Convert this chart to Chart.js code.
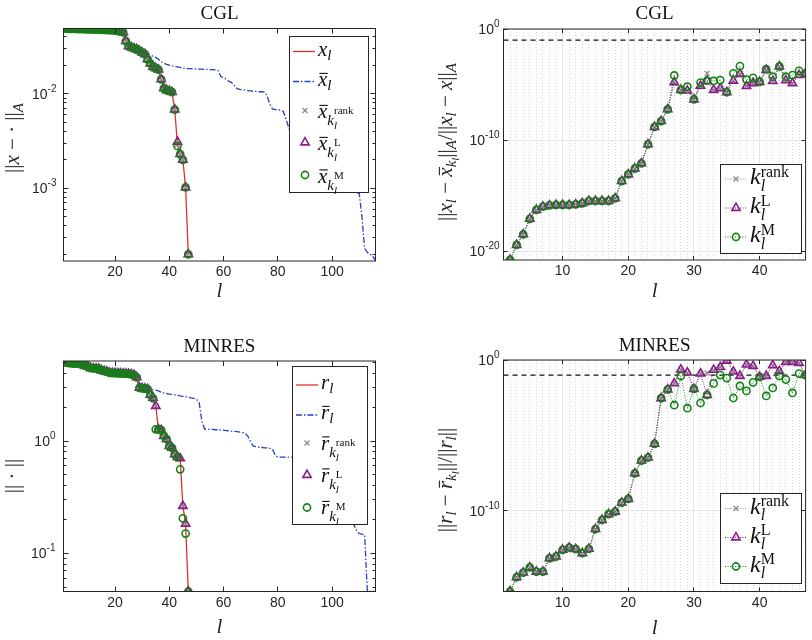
<!DOCTYPE html>
<html>
<head>
<meta charset="utf-8">
<title>CGL / MINRES</title>
<script src="https://cdn.jsdelivr.net/npm/chart.js@4.4.1/dist/chart.umd.min.js"></script>
<style>
  html, body { margin: 0; padding: 0; background: #fff; }
  #fig { position: relative; width: 812px; height: 640px; }
  #fig canvas { position: absolute; }
</style>
</head>
<body>
<div id="fig">
  <canvas id="tl" width="406" height="320" style="left:0;top:0"></canvas>
  <canvas id="tr" width="406" height="320" style="left:406px;top:0"></canvas>
  <canvas id="bl" width="406" height="320" style="left:0;top:320px"></canvas>
  <canvas id="br" width="406" height="320" style="left:406px;top:320px"></canvas>
</div>
<script>
// ---------- data ----------
// CGL, ||x - .||_A, l = 1..47
const cglX = [0.049,0.0488,0.0487,0.0486,0.0485,0.0484,0.0483,0.0482,0.0481,0.048,
  0.0479,0.0478,0.0477,0.0476,0.0475,0.0474,0.0472,0.047,0.0468,0.0466,
  0.0462,0.0456,0.0445,0.0361,0.0318,0.031,0.0302,0.0296,0.0284,0.0272,
  0.0262,0.0231,0.0209,0.0192,0.0186,0.018,0.0142,0.0114,0.0109,0.0107,
  0.0104,0.0068,0.0029,0.0023,0.002,0.00102,0.0002];
const cglXRank = [0.049,0.0488,0.0487,0.0486,0.0485,0.0484,0.0483,0.0482,0.0481,0.048,
  0.0479,0.0478,0.0477,0.0476,0.0475,0.0474,0.0472,0.047,0.0468,0.0466,
  0.0462,0.0456,0.0445,0.0361,0.0318,0.031,0.0302,0.0296,0.0284,0.0272,
  0.0262,0.0231,0.0209,0.0192,0.0186,0.018,0.0142,0.0114,0.0109,0.0107,
  0.0104,0.0068,0.0029,0.0023,0.002,0.00102,0.0002];
const cglXL = [0.049,0.0488,0.0487,0.0486,0.0485,0.0484,0.0483,0.0482,0.0481,0.048,
  0.0479,0.0478,0.0477,0.0476,0.0475,0.0474,0.0472,0.047,0.0468,0.0466,
  0.0462,0.0456,0.0445,0.0361,0.0318,0.031,0.0302,0.0296,0.0284,0.0272,
  0.0262,0.0231,0.0209,0.0192,0.0186,0.018,0.0142,0.0114,0.0109,0.0107,
  0.0104,0.0068,0.0031,0.0023,0.002,0.00102,0.0002];
const cglXM = [0.049,0.0488,0.0487,0.0486,0.0485,0.0484,0.0483,0.0482,0.0481,0.048,
  0.0479,0.0478,0.0477,0.0476,0.0475,0.0474,0.0472,0.047,0.0468,0.0466,
  0.0462,0.0456,0.0445,0.0361,0.0318,0.031,0.0302,0.0296,0.0284,0.0272,
  0.0262,0.0231,0.0209,0.0192,0.0186,0.018,0.0142,0.0114,0.0109,0.0107,
  0.0104,0.0068,0.0028,0.0023,0.002,0.00102,0.0002];
// CGL, x bar, l = 1..116
const cglXBar = [0.049,0.0488,0.0487,0.0486,0.0485,0.0484,0.0483,0.0482,0.0481,0.048,
  0.0479,0.0478,0.0477,0.0476,0.0475,0.0474,0.0472,0.047,0.0468,0.0466,
  0.0462,0.0456,0.0445,0.0361,0.0318,0.031,0.0302,0.0296,0.0284,0.0272,
  0.0266,0.0262,0.0258,0.0248,0.0242,0.0232,0.0218,0.021,0.0205,0.0201,
  0.0197,0.0194,0.0192,0.019,0.0187,0.0185,0.0184,0.0184,0.0183,0.0183,
  0.0182,0.0182,0.0181,0.0181,0.018,0.018,0.0179,0.0176,0.0152,0.0148,
  0.0142,0.0135,0.0131,0.0122,0.0113,0.0111,0.011,0.0109,0.0108,0.0107,
  0.0106,0.0106,0.0105,0.0105,0.0104,0.0096,0.0078,0.0069,0.0068,0.0068,
  0.0067,0.0065,0.0054,0.0044,0.0036,0.0033,0.0031,0.003,0.0029,0.0027,
  0.0026,0.0025,0.0024,0.0022,0.0021,0.002,0.0019,0.0018,0.0017,0.0016,
  0.0015,0.0014,0.0013,0.0012,0.0011,0.00105,0.001,0.00095,0.0009,0.00088,
  0.0005,0.00023,0.00021,0.0002,0.00019,0.000172];

// CGL relative error, l = 2..47
const cglRelRank = [1.6e-21,3.5e-20,3.2e-19,7.9e-18,5.0e-17,1.0e-16,1.3e-16,1.4e-16,1.4e-16,1.4e-16,
  1.6e-16,2.0e-16,3.2e-16,3.2e-16,3.2e-16,3.2e-16,5.5e-16,2.0e-14,7.9e-14,2.7e-13,
  7.9e-13,4.0e-11,1.5e-9,5.1e-9,5.8e-8,
  1.6e-5,3.2e-6,2.8e-6,4.5e-7,7.6e-6,1.0e-4,3.2e-6,4.5e-6,2.0e-6,2.2e-5,
  8.9e-5,7.1e-6,1.3e-5,1.7e-5,2.0e-4,2.0e-5,4.2e-4,2.4e-5,1.3e-5,7.1e-5,1.0e-4];
const cglRelL = [1.6e-21,3.5e-20,3.2e-19,7.9e-18,5.0e-17,1.0e-16,1.3e-16,1.4e-16,1.4e-16,1.4e-16,
  1.6e-16,2.0e-16,3.2e-16,3.2e-16,3.2e-16,3.2e-16,5.5e-16,2.0e-14,7.9e-14,2.7e-13,
  7.9e-13,4.0e-11,1.5e-9,5.1e-9,5.8e-8,
  1.6e-5,3.2e-6,2.8e-6,4.5e-7,7.6e-6,2.1e-5,3.2e-6,4.5e-6,2.0e-6,2.2e-5,
  8.9e-5,7.1e-6,1.3e-5,1.7e-5,2.0e-4,2.0e-5,4.2e-4,2.4e-5,1.3e-5,7.1e-5,1.0e-4];
const cglRelM = [1.6e-21,3.5e-20,3.2e-19,7.9e-18,5.0e-17,1.0e-16,1.3e-16,1.4e-16,1.4e-16,1.4e-16,
  1.6e-16,2.0e-16,3.2e-16,3.2e-16,3.2e-16,3.2e-16,5.5e-16,2.0e-14,7.9e-14,2.7e-13,
  7.9e-13,4.0e-11,1.5e-9,5.1e-9,5.8e-8,
  6.5e-5,3.2e-6,6.3e-6,4.5e-7,1.5e-5,2.2e-5,2.1e-5,2.5e-5,2.0e-6,1.0e-4,
  4.5e-4,2.8e-5,4.0e-5,1.7e-5,2.4e-4,5.0e-5,4.2e-4,5.0e-5,7.1e-5,1.7e-4,1.0e-4];

// MINRES, ||.||, l = 1..47
const minresR = [5.16,5.0,4.95,4.92,4.9,4.88,4.85,4.8,4.66,4.62,
  4.45,4.43,4.42,4.4,4.25,4.2,4.15,4.05,4.03,4.02,
  4.01,4.0,3.99,3.98,3.96,3.93,3.87,3.69,2.98,2.95,
  2.93,2.9,2.58,2.42,2.05,1.27,1.25,1.11,1.04,0.9,
  0.87,0.76,0.72,0.7,0.264,0.183,0.0457];
const minresRank = [5.16,5.0,4.95,4.92,4.9,4.88,4.85,4.8,4.66,4.62,
  4.45,4.43,4.42,4.4,4.25,4.2,4.15,4.05,4.03,4.02,
  4.01,4.0,3.99,3.98,3.96,3.93,3.87,3.69,2.98,2.95,
  2.93,2.9,2.58,2.42,2.05,1.27,1.25,1.11,1.04,0.9,
  0.87,0.76,0.72,0.7,0.264,0.183,0.0457];
const minresL = [5.16,5.0,4.95,4.92,4.9,4.88,4.85,4.8,4.66,4.62,
  4.45,4.43,4.42,4.4,4.25,4.2,4.15,4.05,4.03,4.02,
  4.01,4.0,3.99,3.98,3.96,3.93,3.87,3.69,2.98,2.95,
  2.93,2.9,2.58,2.42,2.05,1.27,1.25,1.11,1.04,0.9,
  0.87,0.76,0.72,0.7,0.264,0.183,0.0457];
const minresM = [5.16,5.0,4.95,4.92,4.9,4.88,4.85,4.8,4.66,4.62,
  4.45,4.43,4.42,4.4,4.25,4.2,4.15,4.05,4.03,4.02,
  4.01,4.0,3.99,3.98,3.96,3.93,3.87,3.69,2.98,2.95,
  2.93,2.9,2.58,2.4,1.27,1.27,1.25,1.11,1.04,0.9,
  0.87,0.76,0.72,0.56,0.205,0.15,0.0457];
// MINRES, r bar, l = 1..116
const minresRBar = [5.16,5.0,4.95,4.92,4.9,4.88,4.85,4.8,4.66,4.62,
  4.45,4.43,4.42,4.4,4.25,4.2,4.15,4.05,4.03,4.02,
  4.01,4.0,3.99,3.98,3.96,3.93,3.87,3.69,2.98,2.95,
  2.93,2.9,2.88,2.86,2.84,2.8,2.72,2.68,2.65,2.62,
  2.6,2.58,2.55,2.52,2.5,2.48,2.45,2.42,2.4,2.35,
  2.2,1.5,1.28,1.28,1.27,1.27,1.26,1.26,1.25,1.25,
  1.24,1.23,1.22,1.22,1.21,1.2,1.19,1.17,1.1,0.98,
  0.9,0.89,0.88,0.88,0.87,0.87,0.86,0.85,0.75,0.72,
  0.72,0.72,0.72,0.72,0.72,0.7,0.68,0.6,0.5,0.45,
  0.42,0.4,0.38,0.36,0.34,0.32,0.3,0.28,0.27,0.26,
  0.25,0.24,0.23,0.22,0.21,0.2,0.19,0.18,0.16,0.15,
  0.148,0.146,0.0457,0.0457,0.0457,0.0457];

// MINRES relative residual, l = 2..47
const minresRelRank = [4.3e-16,3.8e-15,7.8e-15,1.7e-14,8.9e-15,8.9e-15,6.9e-14,8.9e-14,2.5e-13,3.5e-13,
  2.8e-13,1.5e-13,2.9e-13,5.9e-12,2.4e-11,5.8e-11,8.5e-11,3.4e-10,6.0e-10,3.0e-8,
  2.1e-7,3.3e-7,2.7e-6,2.9e-3,1.1e-2,
  2.8e-2,0.23,0.145,1.2e-2,0.126,0.138,0.22,0.34,0.89,0.17,
  8.7e-2,0.49,0.4,7.6e-2,8.7e-2,0.44,0.18,0.74,0.74,0.63,0.1];
const minresRelL = [4.3e-16,3.8e-15,7.8e-15,1.7e-14,8.9e-15,8.9e-15,6.9e-14,8.9e-14,2.5e-13,3.5e-13,
  2.8e-13,1.5e-13,2.9e-13,5.9e-12,2.4e-11,5.8e-11,8.5e-11,3.4e-10,6.0e-10,3.0e-8,
  2.1e-7,3.3e-7,2.7e-6,2.9e-3,1.1e-2,
  2.8e-2,0.23,0.145,1.2e-2,0.126,4.8e-3,0.22,0.34,0.89,0.17,
  8.7e-2,0.49,0.4,7.6e-2,8.7e-2,0.44,0.18,0.74,0.74,0.63,0.1];
const minresRelM = [4.3e-16,3.8e-15,7.8e-15,1.7e-14,8.9e-15,8.9e-15,6.9e-14,8.9e-14,2.5e-13,3.5e-13,
  2.8e-13,1.5e-13,2.9e-13,5.9e-12,2.4e-11,5.8e-11,8.5e-11,3.4e-10,6.0e-10,3.0e-8,
  2.1e-7,3.3e-7,2.7e-6,2.9e-3,1.1e-2,
  1.0e-3,8.7e-2,6.3e-4,1.2e-2,1.4e-3,4.8e-3,2.8e-2,0.1,6.3e-2,3.0e-3,
  1.9e-2,8.9e-3,3.3e-2,7.6e-2,4.1e-3,1.4e-2,8.7e-2,5.0e-2,6.5e-3,0.126,0.1];

const tol = 0.1;
const firstLeft = 1, firstRight = 2;

// axes
const xRangeLeft = [1, 116], xRangeRight = [1, 47];
const xTicksLeft = [20, 40, 60, 80, 100];
const xTicksRight = [10, 20, 30, 40];
const yRangeTL = [1.7e-4, 0.049], yTicksTL = [1e-3, 1e-2];
const yRangeTR = [1.55e-21, 1], yTicksTR = [1e-20, 1e-10, 1];
const yRangeBL = [0.0457, 5.16], yTicksBL = [1e-1, 1];
const yRangeBR = [4.3e-16, 1], yTicksBR = [1e-10, 1];

// ---------- styling ----------
const RED = '#e0302a', BLUE = '#2540c2', PURPLE = '#8a1c8a', GREEN = '#138313', GRAY = '#8c8c8c', INK = '#262626';
const SERIF = '"Liberation Serif", "DejaVu Serif", serif';
const SANS = '"Liberation Sans", Arial, sans-serif';
const mkRank = { ps: 'crossRot', r: 3.5, c: GRAY, w: 1.3 };
const mkL = { ps: 'triangle', r: 4.8, c: PURPLE, w: 1.6 };
const mkM = { ps: 'circle', r: 3.6, c: GREEN, w: 1.6 };

const pts = (vals, first) => vals.map((v, i) => ({ x: first + i, y: v }));

// rich text: segments {t, s: size, i: italic, dy, bar, k: keep x (stack next)}
const S = (t, s, o = {}) => Object.assign({ t, s }, o);
const fontOf = s => (s.i ? 'italic ' : '') + s.s + 'px ' + (s.f || SERIF);
function drawRich(ctx, segs, x, y, align) {
  let cx = 0, hold = 0;
  const items = [];
  segs.forEach(s => {
    ctx.font = fontOf(s);
    const w = ctx.measureText(s.t).width;
    items.push({ s, x: cx, w });
    if (s.k) hold = Math.max(hold, w);
    else { cx += Math.max(w, hold); hold = 0; }
  });
  const x0 = align === 'center' ? x - cx / 2 : align === 'right' ? x - cx : x;
  ctx.textAlign = 'left';
  ctx.textBaseline = 'alphabetic';
  items.forEach(it => {
    const dy = it.s.dy || 0;
    ctx.font = fontOf(it.s);
    ctx.fillText(it.s.t, x0 + it.x, y + dy);
    if (it.s.bar) {
      const by = y + dy - it.s.s * 0.6;
      ctx.lineWidth = 1.1;
      ctx.beginPath();
      ctx.moveTo(x0 + it.x + it.w * 0.15, by);
      ctx.lineTo(x0 + it.x + it.w * 1.05, by);
      ctx.stroke();
    }
  });
}

function drawMarker(ctx, mk, x, y) {
  ctx.strokeStyle = mk.c;
  ctx.lineWidth = mk.w;
  ctx.setLineDash([]);
  ctx.beginPath();
  if (mk.ps === 'crossRot') {
    const d = mk.r * Math.SQRT1_2;
    ctx.moveTo(x - d, y - d); ctx.lineTo(x + d, y + d);
    ctx.moveTo(x + d, y - d); ctx.lineTo(x - d, y + d);
  } else if (mk.ps === 'triangle') {
    for (let i = 0; i < 3; i++) {
      const a = i * 2 * Math.PI / 3;
      const px = x + Math.sin(a) * mk.r, py = y - Math.cos(a) * mk.r;
      if (i === 0) ctx.moveTo(px, py); else ctx.lineTo(px, py);
    }
    ctx.closePath();
  } else {
    ctx.arc(x, y, mk.r, 0, Math.PI * 2);
  }
  ctx.stroke();
}

const crisp = v => Math.floor(v) + 0.5;
function line(ctx, x1, y1, x2, y2) { ctx.beginPath(); ctx.moveTo(x1, y1); ctx.lineTo(x2, y2); ctx.stroke(); }

const deco = {
  id: 'deco',
  beforeDatasetsDraw(chart, args, o) {
    const { ctx, chartArea: a } = chart, xs = chart.scales.x, ys = chart.scales.y;
    ctx.save();
    // y tick labels as 10 with a raised exponent
    ctx.fillStyle = INK;
    ys.ticks.forEach(t => {
      const e = String(Math.round(Math.log10(t.value)));
      const py = ys.getPixelForValue(t.value);
      drawRich(ctx, [S('10', 14, { f: SANS }), S(e, 10, { f: SANS, dy: -7 })], a.left - o.labGap, py + 5, 'right');
    });
    if (o.grid) {
      const majors = xs.ticks.map(t => t.value);
      ctx.lineWidth = 1;
      ctx.strokeStyle = '#d6d6d6';
      ctx.setLineDash([1, 2]);
      for (let v = Math.ceil(xs.min); v <= xs.max; v++) {
        if (majors.includes(v)) continue;
        const px = crisp(xs.getPixelForValue(v));
        line(ctx, px, a.top, px, a.bottom);
      }
      ctx.setLineDash([]);
      ctx.strokeStyle = '#e4e4e4';
      majors.forEach(v => { const px = crisp(xs.getPixelForValue(v)); line(ctx, px, a.top, px, a.bottom); });
      ys.ticks.forEach(t => { const py = crisp(ys.getPixelForValue(t.value)); line(ctx, a.left, py, a.right, py); });
    }
    ctx.restore();
  },
  afterDatasetsDraw(chart, args, o) {
    const { ctx, chartArea: a } = chart, xs = chart.scales.x, ys = chart.scales.y;
    const X = v => v - o.ox, Y = v => v - o.oy;
    ctx.save();
    ctx.strokeStyle = INK;
    ctx.lineWidth = 1;
    ctx.setLineDash([]);
    ctx.strokeRect(a.left, a.top, a.right - a.left, a.bottom - a.top);
    xs.ticks.forEach(t => {
      const px = crisp(xs.getPixelForValue(t.value));
      line(ctx, px, a.bottom, px, a.bottom - o.tick);
      line(ctx, px, a.top, px, a.top + o.tick);
    });
    ys.ticks.forEach(t => {
      const py = crisp(ys.getPixelForValue(t.value));
      line(ctx, a.left, py, a.left + o.tick, py);
      line(ctx, a.right, py, a.right - o.tick, py);
    });
    if (o.minor) {
      for (let d = Math.floor(Math.log10(ys.min)); d <= Math.ceil(Math.log10(ys.max)); d++) {
        for (let k = 2; k <= 9; k++) {
          const v = k * Math.pow(10, d);
          if (v <= ys.min || v >= ys.max) continue;
          const py = crisp(ys.getPixelForValue(v));
          line(ctx, a.left, py, a.left + o.minor, py);
          line(ctx, a.right, py, a.right - o.minor, py);
        }
      }
    }
    // legend
    const g = o.legend;
    const [x1, y1, x2, y2] = g.box;
    ctx.fillStyle = '#fff';
    ctx.fillRect(X(x1), Y(y1), x2 - x1, y2 - y1);
    ctx.strokeStyle = INK;
    ctx.lineWidth = 1;
    ctx.strokeRect(X(x1), Y(y1), x2 - x1, y2 - y1);
    g.rows.forEach(r => {
      const y = Y(r.y);
      if (r.line) {
        ctx.strokeStyle = r.line.c;
        ctx.lineWidth = r.line.w;
        ctx.setLineDash(r.line.dash || []);
        line(ctx, X(g.sx[0]), y, X(g.sx[1]), y);
        ctx.setLineDash([]);
      }
      if (r.mk) drawMarker(ctx, r.mk, X(g.mx), y);
      ctx.fillStyle = '#111';
      ctx.strokeStyle = '#111';
      drawRich(ctx, r.segs, X(g.tx), y + r.by, 'left');
    });
    ctx.restore();
  },
  afterDraw(chart, args, o) {
    const { ctx, chartArea: a } = chart;
    const X = v => v - o.ox, Y = v => v - o.oy;
    const cx = (a.left + a.right) / 2;
    ctx.save();
    ctx.fillStyle = '#111';
    ctx.strokeStyle = '#111';
    drawRich(ctx, o.title, cx, Y(o.titleY), 'center');
    ctx.fillStyle = INK;
    ctx.strokeStyle = INK;
    drawRich(ctx, o.xlab, cx, Y(o.xlabY), 'center');
    ctx.translate(X(o.ylabX), Y(o.ylabY));
    ctx.rotate(-Math.PI / 2);
    drawRich(ctx, o.ylab, 0, 0, 'center');
    ctx.restore();
  }
};

// ---------- text ----------
const NB = '||';
const barK = (b, s) => [S(b, 21, { i: 1, bar: 1 }), S('k', 15, { i: 1, dy: 7 }), S('l', 11, { i: 1, dy: 11, k: 1 }), S(s, 11, { dy: -4 })];
const kLeg = s => [S('k', 24, { i: 1 }), S('l', 16, { i: 1, dy: 6.5, k: 1 }), S(s, 16, { dy: -7.5 })];
const labTL = [S(NB, 21), S('x', 21, { i: 1 }), S(' − ·', 21), S(' ' + NB, 21), S('A', 15, { i: 1, dy: 4 })];
const labTR = [S(NB, 21), S('x', 21, { i: 1 }), S('l', 15, { i: 1, dy: 4 }), S(' − ', 21), S('x', 21, { i: 1, bar: 1 }),
  S('k', 15, { i: 1, dy: 4 }), S('l', 11, { i: 1, dy: 7 }), S(NB, 21), S('A', 15, { i: 1, dy: 4 }), S('/', 21),
  S(NB, 21), S('x', 21, { i: 1 }), S('l', 15, { i: 1, dy: 4 }), S(' − ', 21), S('x', 21, { i: 1 }), S(NB, 21), S('A', 15, { i: 1, dy: 4 })];
const labBL = [S(NB + ' · ' + NB, 21)];
const labBR = [S(NB, 21), S('r', 21, { i: 1 }), S('l', 15, { i: 1, dy: 4 }), S(' − ', 21), S('r', 21, { i: 1, bar: 1 }),
  S('k', 15, { i: 1, dy: 4 }), S('l', 11, { i: 1, dy: 7 }), S(NB, 21), S('/', 21),
  S(NB, 21), S('r', 21, { i: 1 }), S('l', 15, { i: 1, dy: 4 }), S(NB, 21)];
const xLab = [S('l', 21, { i: 1 })];

// ---------- panels ----------
const panels = {
  tl: { ox: 0, oy: 0, area: [63.5, 28.5, 375.5, 261] },
  tr: { ox: 406, oy: 0, area: [503.5, 29, 807.5, 260] },
  bl: { ox: 0, oy: 320, area: [63.5, 361, 375.5, 591.5] },
  br: { ox: 406, oy: 320, area: [503.5, 360, 807.5, 591.5] }
};

function markerSet(vals, mk, first, dotted) {
  return {
    data: pts(vals, first), showLine: !!dotted,
    borderColor: mk.c, borderWidth: 1, borderDash: [1, 1.5],
    pointStyle: mk.ps, pointRadius: mk.r, pointBorderColor: mk.c,
    pointBorderWidth: mk.w, pointBackgroundColor: 'rgba(0,0,0,0)'
  };
}
function leftSets(r, bar, rank, L, M) {
  return [
    markerSet(M, mkM, firstLeft), markerSet(L, mkL, firstLeft), markerSet(rank, mkRank, firstLeft),
    { data: pts(r, firstLeft), borderColor: RED, borderWidth: 1.3, pointRadius: 0 },
    { data: pts(bar, firstLeft), borderColor: BLUE, borderWidth: 1.3, borderDash: [6, 2, 1.5, 2], pointRadius: 0 }
  ];
}
function rightSets(rank, L, M) {
  return [
    markerSet(M, mkM, firstRight, true), markerSet(L, mkL, firstRight, true), markerSet(rank, mkRank, firstRight, true),
    { data: [{ x: xRangeRight[0], y: tol }, { x: xRangeRight[1], y: tol }], borderColor: '#111', borderWidth: 1.2, borderDash: [5, 4], pointRadius: 0 }
  ];
}

function makePanel(id, datasets, xr, xt, yr, yt, opts) {
  const p = panels[id];
  return new Chart(document.getElementById(id), {
    type: 'line',
    data: { datasets },
    options: {
      responsive: false, animation: false, events: [],
      layout: { padding: { left: 0, top: p.area[1] - p.oy, right: p.ox + 406 - p.area[2], bottom: 0 } },
      elements: { line: { tension: 0, fill: false } },
      scales: {
        x: {
          type: 'linear', min: xr[0], max: xr[1],
          grid: { display: false, drawTicks: false }, border: { display: false },
          afterBuildTicks: ax => { ax.ticks = xt.map(v => ({ value: v })); },
          afterFit: ax => { ax.height = p.oy + 320 - p.area[3]; },
          ticks: { autoSkip: false, maxRotation: 0, padding: 3, color: INK, font: { family: SANS, size: 14 }, callback: v => String(v) }
        },
        y: {
          type: 'logarithmic', min: yr[0], max: yr[1],
          grid: { display: false, drawTicks: false }, border: { display: false },
          afterBuildTicks: ax => { ax.ticks = yt.map(v => ({ value: v })); },
          afterFit: ax => { ax.width = p.area[0] - p.ox; },
          ticks: { display: false }
        }
      },
      plugins: {
        legend: { display: false }, tooltip: { enabled: false },
        deco: Object.assign({ ox: p.ox, oy: p.oy }, opts)
      }
    },
    plugins: [deco]
  });
}

makePanel('tl', leftSets(cglX, cglXBar, cglXRank, cglXL, cglXM), xRangeLeft, xTicksLeft, yRangeTL, yTicksTL, {
  grid: false, tick: 5, minor: 3, labGap: 7,
  title: [S('CGL', 19)], titleY: 18.5, xlab: xLab, xlabY: 297, ylab: labTL, ylabX: 19, ylabY: 138,
  legend: {
    box: [289.5, 36.5, 368.5, 192.5], sx: [293, 315], mx: 305, tx: 318,
    rows: [
      { y: 51.5, line: { c: RED, w: 1.3 }, by: 4.5, segs: [S('x', 21, { i: 1 }), S('l', 15, { i: 1, dy: 3.5 })] },
      { y: 81.5, line: { c: BLUE, w: 1.3, dash: [6, 2, 1.5, 2] }, by: 4.5, segs: [S('x', 21, { i: 1, bar: 1 }), S('l', 15, { i: 1, dy: 3.5 })] },
      { y: 110.5, mk: mkRank, by: 7.5, segs: barK('x', 'rank') },
      { y: 142.5, mk: mkL, by: 7.5, segs: barK('x', 'L') },
      { y: 175, mk: mkM, by: 7.5, segs: barK('x', 'M') }
    ]
  }
});

makePanel('tr', rightSets(cglRelRank, cglRelL, cglRelM), xRangeRight, xTicksRight, yRangeTR, yTicksTR, {
  grid: true, tick: 4, minor: 0, labGap: 4,
  title: [S('CGL', 19)], titleY: 18.5, xlab: xLab, xlabY: 297, ylab: labTR, ylabX: 452, ylabY: 142,
  legend: {
    box: [720.5, 164.5, 801.5, 253.5], sx: [725, 747], mx: 736, tx: 750,
    rows: [
      { y: 179, line: { c: GRAY, w: 1, dash: [1, 1.5] }, mk: mkRank, by: 5, segs: kLeg('rank') },
      { y: 208, line: { c: PURPLE, w: 1, dash: [1, 1.5] }, mk: mkL, by: 5, segs: kLeg('L') },
      { y: 237, line: { c: GREEN, w: 1, dash: [1, 1.5] }, mk: mkM, by: 5, segs: kLeg('M') }
    ]
  }
});

makePanel('bl', leftSets(minresR, minresRBar, minresRank, minresL, minresM), xRangeLeft, xTicksLeft, yRangeBL, yTicksBL, {
  grid: false, tick: 5, minor: 3, labGap: 8,
  title: [S('MINRES', 19)], titleY: 351.5, xlab: xLab, xlabY: 633, ylab: labBL, ylabX: 19, ylabY: 476,
  legend: {
    box: [292.5, 366.5, 367.5, 524.5], sx: [296, 318], mx: 307, tx: 321,
    rows: [
      { y: 385, line: { c: RED, w: 1.3 }, by: 4, segs: [S('r', 21, { i: 1 }), S('l', 15, { i: 1, dy: 3.5 })] },
      { y: 415, line: { c: BLUE, w: 1.3, dash: [6, 2, 1.5, 2] }, by: 4, segs: [S('r', 21, { i: 1, bar: 1 }), S('l', 15, { i: 1, dy: 3.5 })] },
      { y: 443, mk: mkRank, by: 6.5, segs: barK('r', 'rank') },
      { y: 475, mk: mkL, by: 6.5, segs: barK('r', 'L') },
      { y: 507.5, mk: mkM, by: 6.5, segs: barK('r', 'M') }
    ]
  }
});

makePanel('br', rightSets(minresRelRank, minresRelL, minresRelM), xRangeRight, xTicksRight, yRangeBR, yTicksBR, {
  grid: true, tick: 4, minor: 0, labGap: 4,
  title: [S('MINRES', 19)], titleY: 351, xlab: xLab, xlabY: 634, ylab: labBR, ylabX: 452, ylabY: 480,
  legend: {
    box: [720.5, 493.5, 801.5, 583.5], sx: [725, 747], mx: 736, tx: 750,
    rows: [
      { y: 508.5, line: { c: GRAY, w: 1, dash: [1, 1.5] }, mk: mkRank, by: 5, segs: kLeg('rank') },
      { y: 537.5, line: { c: PURPLE, w: 1, dash: [1, 1.5] }, mk: mkL, by: 5, segs: kLeg('L') },
      { y: 566.5, line: { c: GREEN, w: 1, dash: [1, 1.5] }, mk: mkM, by: 5, segs: kLeg('M') }
    ]
  }
});
</script>
</body>
</html>
